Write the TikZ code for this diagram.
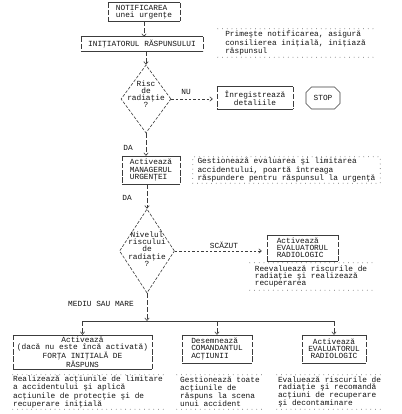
\documentclass[tikz,border=0pt]{standalone}
\usepackage{fontspec}
\setmonofont{Liberation Mono}
\usetikzlibrary{arrows.meta,shapes.geometric,shapes.misc}
\definecolor{inkGrey}{RGB}{20,20,20}
\definecolor{lineGrey}{RGB}{60,60,60}

\begin{document}
\begin{tikzpicture}[x=1pt,y=-1pt,
  every node/.style={font=\ttfamily\fontsize{7.8}{7.2}\selectfont,text=inkGrey,inner sep=0pt},
  flowbox/.style={align=center},
  leftbox/.style={align=left},
  notebox/.style={align=left},
  decision/.style={diamond,draw=lineGrey,line width=0.6pt,dash pattern=on 3pt off 1.6pt},
  stopbox/.style={chamfered rectangle,chamfered rectangle xsep=7pt,draw=lineGrey,line width=0.6pt},
  flow/.style={draw=lineGrey,line width=0.6pt,dash pattern=on 5pt off 2pt,-{Straight Barb[length=2.6pt,width=4.4pt]}},
  sideflow/.style={draw=lineGrey,line width=0.6pt,dash pattern=on 2.4pt off 2pt,-{Straight Barb[length=2.6pt,width=4.4pt]}},
  dotline/.style={draw=lineGrey,line width=0.8pt,line cap=round,dash pattern=on 0pt off 4.7pt},
  boxline/.style={draw=lineGrey,line width=0.6pt},
  boxside/.style={draw=lineGrey,line width=0.6pt,dash pattern=on 5.4pt off 1.8pt}]
\path[use as bounding box,fill=white] (0,0) rectangle (401,414);

% main column
\node[leftbox,minimum width=72pt,minimum height=18pt] (notif) at (144,12) {NOTIFICAREA\\unei urgenţe};
\node[flowbox,minimum width=122pt,minimum height=14pt] (initiator) at (142,44) {INIŢIATORUL RĂSPUNSULUI};
\node[decision,minimum width=50pt,minimum height=68pt] (risc) at (146,99) {};
\node[flowbox,yshift=5pt] (risctext) at (risc) {Risc\\de\\radiaţie\\?};
\node[flowbox,minimum width=76pt,minimum height=22pt] (inreg) at (255,98) {Înregistrează\\detaliile};
\node[stopbox,minimum width=34pt,minimum height=22pt] (stop) at (323,98) {STOP};
\node[leftbox,minimum width=58pt,minimum height=28pt] (manager) at (151,170) {Activează\\MANAGERUL\\URGENŢEI};
\node[decision,minimum width=55pt,minimum height=84pt] (nivel) at (147,251) {};
\node[flowbox,yshift=2pt] (niveltext) at (nivel) {Nivelul\\riscului\\de\\radiaţie\\?};
\node[leftbox,minimum width=71pt,minimum height=26pt] (evalA) at (302.5,248) {Activează\\EVALUATORUL\\RADIOLOGIC};
\coordinate (split) at (147,321);
\node[flowbox,minimum width=139pt,minimum height=34pt] (forta) at (82.5,352) {Activează\\(dacă nu este încă activată)\\FORŢA INIŢIALĂ DE\\RĂSPUNS};
\node[leftbox,minimum width=70pt,minimum height=28pt] (comandant) at (217,349) {Desemnează\\COMANDANTUL\\ACŢIUNII};
\node[flowbox,minimum width=64pt,minimum height=28pt] (evalB) at (334,349) {Activează\\EVALUATORUL\\RADIOLOGIC};

% notes
\node[notebox,minimum width=155pt,minimum height=28pt] (notePrimeste) at (295.5,43) {Primeşte notificarea, asigură\\consilierea iniţială, iniţiază\\răspunsul};
\node[notebox,minimum width=187pt,minimum height=26pt] (noteGestiune) at (286.5,170) {Gestionează evaluarea şi limitarea\\accidentului, poartă întreaga\\răspundere pentru răspunsul la urgenţă};
\node[notebox,minimum width=122pt,minimum height=27pt] (noteReevalueaza) at (311,276.5) {Reevaluează riscurile de\\radiaţie şi realizează\\recuperarea};
\node[notebox,minimum width=150pt,minimum height=34pt] (noteRealizeaza) at (88,392) {Realizează acţiunile de limitare\\a accidentului şi aplică\\acţiunile de protecţie şi de\\recuperare iniţială};
\node[notebox,minimum width=86pt,minimum height=34pt] (noteGestioneaza) at (220,392) {Gestionează toate\\acţiunile de\\răspuns la scena\\unui accident};
\node[notebox,minimum width=105pt,minimum height=34pt] (noteEvalueaza) at (329.5,392) {Evaluează riscurile de\\radiaţie şi recomandă\\acţiuni de recuperare\\şi decontaminare};

% labels
\node (nu) at (186,92) {NU};
\node (da1) at (128,148) {DA};
\node (da2) at (127,198) {DA};
\node (scazut) at (224,245) {SCĂZUT};
\node (mediu) at (101,304) {MEDIU SAU MARE};

% box borders
\foreach \b in {notif,initiator,inreg,manager,evalA,forta,comandant,evalB}{
  \draw[boxline] (\b.north west) -- (\b.north east) (\b.south west) -- (\b.south east);
  \draw[boxside] (\b.north west) -- (\b.south west) (\b.north east) -- (\b.south east);
}
\foreach \n in {notePrimeste,noteReevalueaza,noteRealizeaza,noteGestioneaza,noteEvalueaza}
  \draw[dotline] (\n.north west) -- (\n.north east) (\n.south west) -- (\n.south east);
\draw[dotline] (noteGestiune.south west) rectangle (noteGestiune.north east);

% connectors
\draw[flow] (notif.south) -- (notif.south |- initiator.north);
\draw[flow] (initiator.south -| risc.north) -- (risc.north);
\draw[sideflow,shorten >=4pt] (risc.east) -- (risc.east -| inreg.west);
\draw[flow] (risc.south) -- (risc.south |- manager.north);
\draw[flow] (manager.south -| nivel.north) -- (nivel.north);
\draw[sideflow,shorten >=5pt] (nivel.east) -- (nivel.east -| evalA.west);
\draw[flow] (nivel.south) -- (split);
\draw[boxline] (forta.north |- split) -- (evalB.north |- split);
\foreach \b in {forta,comandant,evalB}
  \draw[flow] (\b.north |- split) -- (\b.north);
\end{tikzpicture}
\end{document}
